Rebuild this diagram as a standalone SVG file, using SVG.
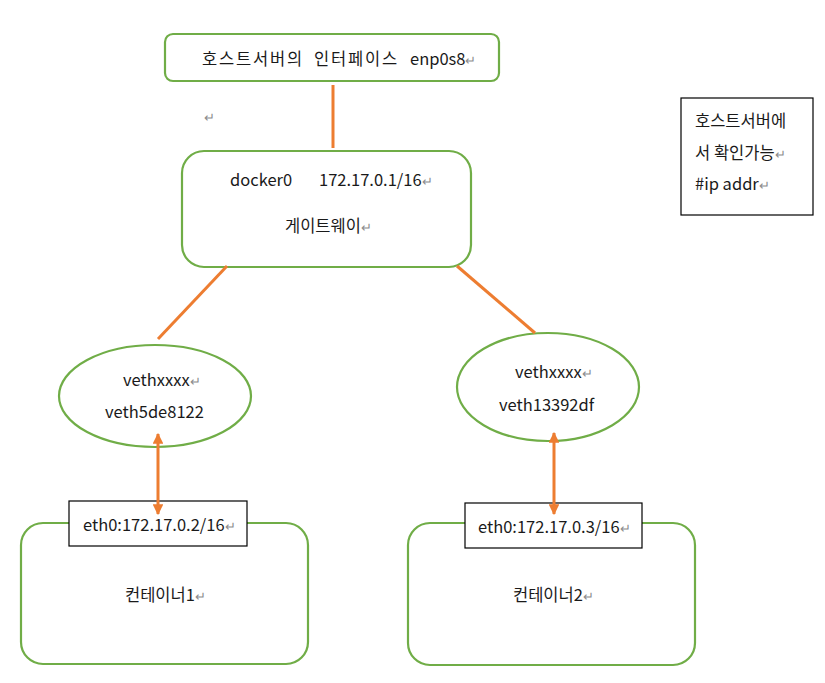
<svg xmlns="http://www.w3.org/2000/svg" width="825" height="683" viewBox="0 0 825 683">
<defs>
<style>
.g{fill:#fff;stroke:#70AD47;stroke-width:2.2}
.k{fill:#fff;stroke:#000;stroke-width:1.2}
.t{font-family:"Noto Sans CJK KR","Malgun Gothic","Liberation Sans",sans-serif;font-size:16.5px;fill:#1a1a1a}
.r{fill:#8c8c8c;font-size:13px;letter-spacing:0}
.c{stroke:#ED7D31;stroke-width:3;fill:none}
</style>
<marker id="ah" viewBox="0 0 10 10" refX="9" refY="5" markerWidth="3.6" markerHeight="3.6" orient="auto-start-reverse">
<path d="M0,0 L10,5 L0,10 z" fill="#ED7D31"/>
</marker>
</defs>
<rect width="825" height="683" fill="#fff"/>
<g id="host-if">
<rect class="g" x="165" y="34" width="334" height="47" rx="8"/>
<text class="t" x="202" y="65" letter-spacing="1.8">호스트서버의</text>
<text class="t" x="314" y="65" letter-spacing="1.8">인터페이스</text>
<text class="t" x="410" y="65">enp0s8<tspan class="r">↵</tspan></text>
</g>
<text class="t r" x="204" y="122">↵</text>
<g id="docker0">
<rect class="g" x="182" y="151" width="289" height="116" rx="22"/>
<text class="t" x="230" y="186">docker0</text>
<text class="t" x="319" y="186">172.17.0.1/16<tspan class="r">↵</tspan></text>
<text class="t" x="285" y="232">게이트웨이<tspan class="r">↵</tspan></text>
</g>
<g id="note">
<rect class="k" x="681" y="98" width="132" height="117"/>
<text class="t" x="695" y="127">호스트서버에</text>
<text class="t" x="695" y="159">서 확인가능<tspan class="r">↵</tspan></text>
<text class="t" x="695" y="190">#ip addr<tspan class="r">↵</tspan></text>
</g>
<g id="veth-left">
<ellipse class="g" cx="155" cy="396" rx="96" ry="51"/>
<text class="t" x="123" y="386">vethxxxx<tspan class="r">↵</tspan></text>
<text class="t" x="105" y="418">veth5de8122</text>
</g>
<g id="veth-right">
<ellipse class="g" cx="548" cy="387" rx="91" ry="54"/>
<text class="t" x="515" y="378">vethxxxx<tspan class="r">↵</tspan></text>
<text class="t" x="499" y="411">veth13392df</text>
</g>
<g id="container1">
<rect class="g" x="21" y="523" width="287" height="141" rx="22"/>
<rect class="k" x="69" y="501" width="178" height="45"/>
<text class="t" x="83" y="531">eth0:172.17.0.2/16<tspan class="r">↵</tspan></text>
<text class="t" x="125" y="601">컨테이너1<tspan class="r">↵</tspan></text>
</g>
<g id="container2">
<rect class="g" x="408" y="523" width="287" height="142" rx="22"/>
<rect class="k" x="465" y="503" width="177" height="45"/>
<text class="t" x="478" y="533">eth0:172.17.0.3/16<tspan class="r">↵</tspan></text>
<text class="t" x="513" y="601">컨테이너2<tspan class="r">↵</tspan></text>
</g>
<g id="connectors">
<line class="c" x1="333" y1="85" x2="333" y2="148"/>
<line class="c" x1="227" y1="266" x2="158" y2="339"/>
<line class="c" x1="457" y1="266" x2="535" y2="333"/>
<line class="c" x1="158" y1="434" x2="158" y2="514" marker-start="url(#ah)" marker-end="url(#ah)"/>
<line class="c" x1="554" y1="433" x2="554" y2="514" marker-start="url(#ah)" marker-end="url(#ah)"/>
</g>
</svg>
